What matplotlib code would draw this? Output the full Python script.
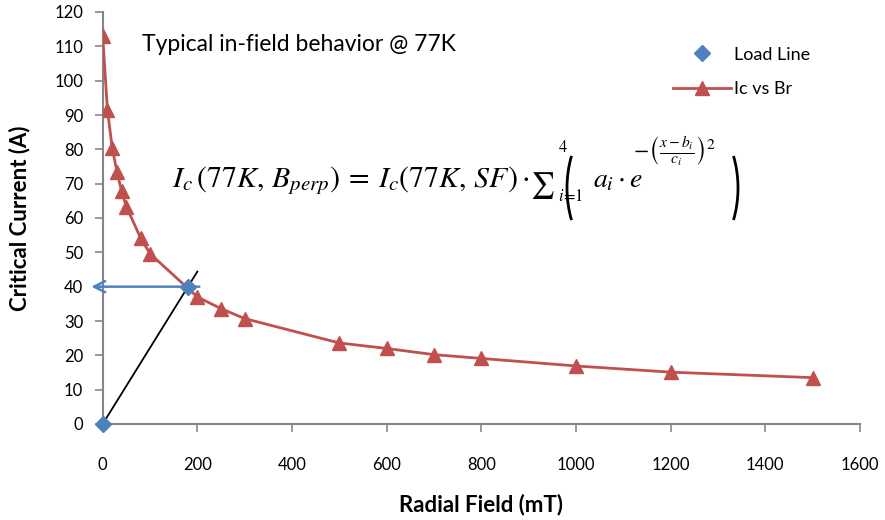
import matplotlib
matplotlib.use("Agg")
import matplotlib.pyplot as plt
from matplotlib.patches import Arc

# Data
br_mT = [0, 10, 20, 30, 40, 50, 80, 100, 200, 250, 300, 500, 600, 700, 800, 1000, 1200, 1500]
ic_A = [113, 91.5, 80.5, 73.5, 67.8, 63.3, 54.2, 49.6, 37.0, 33.6, 30.7, 23.6, 22.0, 20.2, 19.1, 16.9, 15.1, 13.5]
load_x = [0, 180]
load_y = [0, 40]
fit_line_x = [0, 200]
fit_line_y = [0, 44.4]
arrow_from = (210, 40)
arrow_to = (-30, 40)

xticks = [0, 200, 400, 600, 800, 1000, 1200, 1400, 1600]
yticks = list(range(0, 121, 10))

RED = "#C0504D"
BLUE = "#4F81BD"
GRAY = "#868686"

plt.rcParams['font.family'] = ['Lato', 'DejaVu Sans']
plt.rcParams['mathtext.fontset'] = 'stix'

W, H = 885, 520
fig = plt.figure(figsize=(W / 100, H / 100), dpi=100)
AW, AH = 860 - 102.7, 424 - 12
ax = fig.add_axes([102.7 / W, 1 - 424 / H, AW / W, AH / H])

ax.plot(fit_line_x, fit_line_y, color='black', lw=1.3, zorder=2)
ax.annotate('', xy=arrow_to, xytext=arrow_from,
            arrowprops=dict(arrowstyle='->,head_length=0.8,head_width=0.4', color=BLUE, lw=1.8),
            annotation_clip=False, zorder=3)
ax.plot(br_mT, ic_A, color=RED, lw=2, marker='^', markersize=10, label='Ic vs Br', zorder=4)
ax.plot(load_x, load_y, color=BLUE, lw=0, marker='D', markersize=8, label='Load Line', zorder=5, clip_on=False)

ax.set_xlim(0, 1600)
ax.set_ylim(0, 120)
ax.set_xticks(xticks)
ax.set_yticks(yticks)
ax.tick_params(labelsize=12, color=GRAY, length=6, width=1.2)
ax.tick_params(axis='x', pad=18)
ax.tick_params(axis='y', pad=8)
for s in ['top', 'right']:
    ax.spines[s].set_visible(False)
for s in ['left', 'bottom']:
    ax.spines[s].set_color(GRAY)
    ax.spines[s].set_linewidth(1.5)

ax.set_xlabel('Radial Field (mT)', fontsize=16, fontweight='bold')
ax.set_ylabel('Critical Current (A)', fontsize=16, fontweight='bold')
ax.xaxis.set_label_coords(0.5, -(494 - 424) / AH)
ax.yaxis.set_label_coords(-(102.7 - 30) / AW, 0.5)

ax.text(0.052, 0.905, 'Typical in-field behavior @ 77K', transform=ax.transAxes, fontsize=16.5)

def px(x, y):
    return (x / W, 1 - y / H)

# Equation pieces (pixel layout)
base = 187
fig.text(*px(172, base), r'$I_c\,(77K,\,B_{perp})\:=\:I_c(77K,\,SF)\cdot$', fontsize=21.5,
         ha='left', va='baseline')
fig.text(*px(530, base + 5), r'$\sum$', fontsize=19, ha='left', va='baseline')
fig.text(*px(558, 152), r'$4$', fontsize=12, ha='left', va='baseline')
fig.text(*px(558, 201), r'$i\!=\!1$', fontsize=12, ha='left', va='baseline')
fig.text(*px(593, base), r'$a_i\cdot e$', fontsize=20, ha='left', va='baseline')
fig.text(*px(633, 158), r'$-\left(\frac{x-b_i}{c_i}\right)^2$', fontsize=16,
         ha='left', va='baseline')
# large parentheses
fig.add_artist(Arc(px(603, 188), 2 * 36 / W, 2 * 66 / H, theta1=120, theta2=240,
                   transform=fig.transFigure, color='black', lw=2))
fig.add_artist(Arc(px(702, 188), 2 * 36 / W, 2 * 66 / H, theta1=-60, theta2=60,
                   transform=fig.transFigure, color='black', lw=2))

handles, labels = ax.get_legend_handles_labels()
leg = ax.legend(handles[::-1], labels[::-1], loc='upper right', bbox_to_anchor=(0.955, 0.955),
                frameon=False, fontsize=13, handlelength=3.2, handletextpad=0.15, labelspacing=1.0)

fig.savefig('out.png', dpi=100)
